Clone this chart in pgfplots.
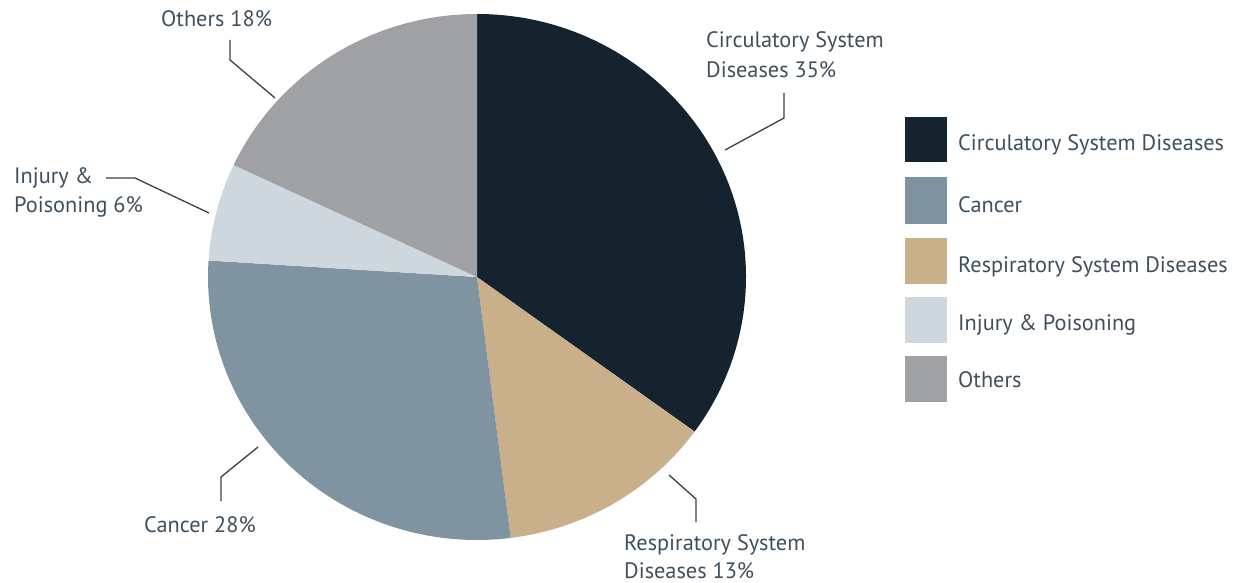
\documentclass[border=0pt]{standalone}
\usepackage{pgfplots}
\pgfplotsset{compat=1.18}
\usepackage{fontspec}
\setmainfont{PT Sans}
\definecolor{circ}{HTML}{15232F}
\definecolor{canc}{HTML}{8093A0}
\definecolor{resp}{HTML}{C9B08A}
\definecolor{inj}{HTML}{CFD7DE}
\definecolor{oth}{HTML}{A0A1A5}
\definecolor{txt}{HTML}{3F4F5C}
\definecolor{lead}{HTML}{3A4048}
\begin{document}
\begin{tikzpicture}[lbl/.style={anchor=base west, inner sep=0pt, text=txt, font=\fontsize{22.3}{26}\selectfont}]
\begin{axis}[x=1pt, y=1pt, xmin=0, xmax=1244, ymin=0, ymax=583, y dir=reverse,
  hide axis, clip=false]
\path (axis cs:0,0) rectangle (axis cs:1244,583);
% shares in percent: Circulatory 35, Respiratory 13, Cancer 28, Injury 6, Others 18
\fill[circ] (axis cs:477,277) -- ++(90:269pt and 263pt)
  arc[start angle=90, end angle=90-3.6*35, x radius=269pt, y radius=263pt] -- cycle;
\fill[resp] (axis cs:477,277) -- ++(90-3.6*35:269pt and 263pt)
  arc[start angle=90-3.6*35, end angle=90-3.6*(35+13), x radius=269pt, y radius=263pt] -- cycle;
\fill[canc] (axis cs:477,277) -- ++(90-3.6*48:269pt and 263pt)
  arc[start angle=90-3.6*48, end angle=90-3.6*(48+28), x radius=269pt, y radius=263pt] -- cycle;
\fill[inj] (axis cs:477,277) -- ++(90-3.6*76:269pt and 263pt)
  arc[start angle=90-3.6*76, end angle=90-3.6*(76+6), x radius=269pt, y radius=263pt] -- cycle;
\fill[oth] (axis cs:477,277) -- ++(90-3.6*82:269pt and 263pt)
  arc[start angle=90-3.6*82, end angle=90-3.6*(82+18), x radius=269pt, y radius=263pt] -- cycle;
% leader lines
\draw[lead, line width=1.3pt] (axis cs:725,150) -- (axis cs:784,118) -- (axis cs:784,93);
\draw[lead, line width=1.3pt] (axis cs:106,178) -- (axis cs:135,178) -- (axis cs:209,213);
\draw[lead, line width=1.3pt] (axis cs:230,40) -- (axis cs:230,60) -- (axis cs:275,98);
\draw[lead, line width=1.3pt] (axis cs:258,447) -- (axis cs:221,477) -- (axis cs:221,501);
\draw[lead, line width=1.3pt] (axis cs:669,475) -- (axis cs:696,499) -- (axis cs:696,522);
% slice labels
\node[lbl] at (axis cs:706,48) {Circulatory System};
\node[lbl] at (axis cs:706,78) {Diseases 35\%};
\node[lbl] at (axis cs:161,27) {Others 18\%};
\node[lbl] at (axis cs:14,183) {Injury \&};
\node[lbl] at (axis cs:14,212) {Poisoning 6\%};
\node[lbl] at (axis cs:144,532) {Cancer 28\%};
\node[lbl] at (axis cs:624,550) {Respiratory System};
\node[lbl] at (axis cs:624,578) {Diseases 13\%};
% legend
\fill[circ] (axis cs:905,117) rectangle (axis cs:947,162);
\fill[canc] (axis cs:905,177) rectangle (axis cs:947,224);
\fill[resp] (axis cs:905,238) rectangle (axis cs:947,284);
\fill[inj]  (axis cs:905,297) rectangle (axis cs:947,343);
\fill[oth]  (axis cs:905,356) rectangle (axis cs:947,402);
\node[lbl] at (axis cs:958,150) {Circulatory System Diseases};
\node[lbl] at (axis cs:958,212) {Cancer};
\node[lbl] at (axis cs:958,272) {Respiratory System Diseases};
\node[lbl] at (axis cs:958,330) {Injury \& Poisoning};
\node[lbl] at (axis cs:958,387) {Others};
\end{axis}
\end{tikzpicture}
\end{document}
